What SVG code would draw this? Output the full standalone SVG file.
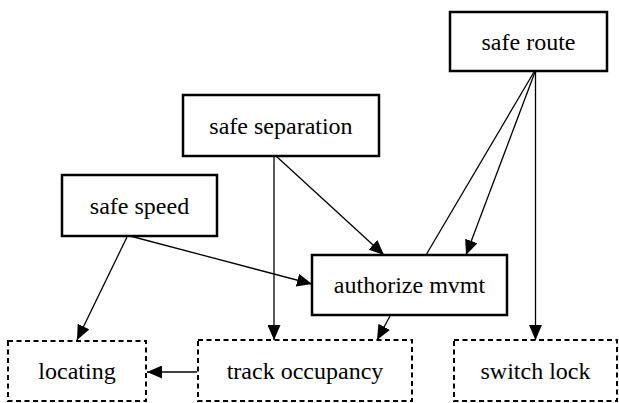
<svg xmlns="http://www.w3.org/2000/svg" width="619" height="403" viewBox="0 0 619 403">
<style>
.box{fill:#fff;stroke:#000;stroke-width:2.5}
.dbox{fill:#fff;stroke:#000;stroke-width:2;stroke-dasharray:5,3.5}
.lbl{font-family:"Liberation Serif","Times New Roman",serif;font-size:24px;fill:#000;text-anchor:middle}
.edge{stroke:#000;stroke-width:1.3;fill:none}
.arr{marker-end:url(#ah)}
</style>
<defs>
<marker id="ah" markerUnits="userSpaceOnUse" viewBox="0 0 15 13" refX="15" refY="6.5" markerWidth="15" markerHeight="13" orient="auto">
<path d="M0,0 L15,6.5 L0,13 z" fill="#000"/>
</marker>
</defs>
<rect width="619" height="403" fill="#fff"/>
<g id="connectors">
<line class="edge arr" x1="535" y1="72" x2="466" y2="255"/>
<line class="edge" x1="534" y1="72" x2="426" y2="255"/>
<line class="edge arr" x1="535.5" y1="72" x2="535.5" y2="340"/>
<line class="edge arr" x1="276" y1="156" x2="384" y2="255"/>
<line class="edge arr" x1="274" y1="156" x2="274" y2="340"/>
<line class="edge arr" x1="130" y1="236" x2="312" y2="284"/>
<line class="edge arr" x1="127" y1="237" x2="77" y2="340"/>
<line class="edge arr" x1="390" y1="316" x2="377" y2="340"/>
<line class="edge arr" x1="197" y1="372" x2="147" y2="372"/>
</g>
<g id="safe-route">
<rect class="box" x="450" y="12" width="157" height="59"/>
<text class="lbl" x="528.5" y="49.5">safe route</text>
</g>
<g id="safe-separation">
<rect class="box" x="183" y="95" width="196" height="61"/>
<text class="lbl" x="281" y="134">safe separation</text>
</g>
<g id="safe-speed">
<rect class="box" x="62" y="175" width="155" height="61"/>
<text class="lbl" x="139.5" y="214">safe speed</text>
</g>
<g id="authorize-mvmt">
<rect class="box" x="312" y="255" width="195" height="60"/>
<text class="lbl" x="409.5" y="293">authorize mvmt</text>
</g>
<g id="locating">
<rect class="dbox" x="8" y="341" width="138" height="60"/>
<text class="lbl" x="77" y="379">locating</text>
</g>
<g id="track-occupancy">
<rect class="dbox" x="198" y="340" width="214" height="61"/>
<text class="lbl" x="305" y="379">track occupancy</text>
</g>
<g id="switch-lock">
<rect class="dbox" x="454" y="340" width="163" height="61"/>
<text class="lbl" x="535.5" y="379">switch lock</text>
</g>
</svg>
